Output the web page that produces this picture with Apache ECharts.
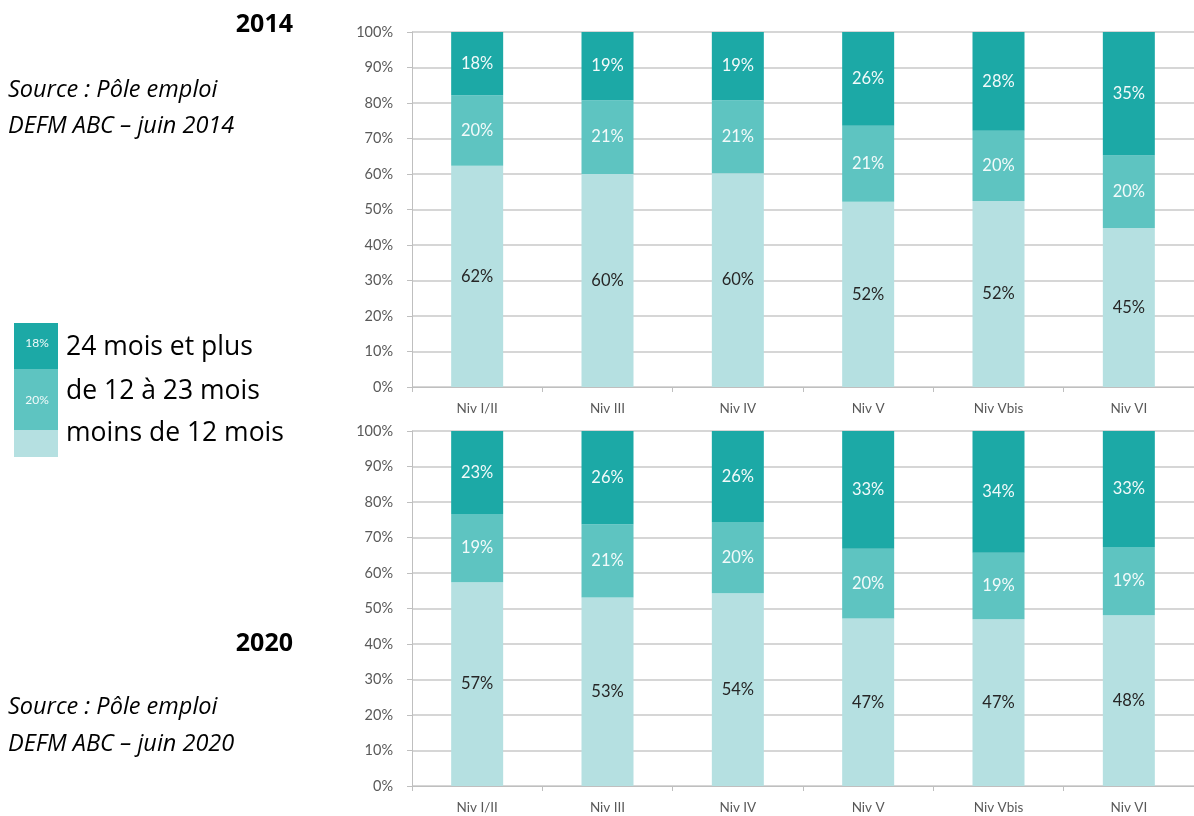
<!DOCTYPE html>
<html>
<head>
<meta charset="utf-8">
<script src="https://cdn.jsdelivr.net/npm/echarts@6/dist/echarts.min.js"></script>
<style>
  html, body { margin: 0; padding: 0; background: #fff; overflow: hidden; }
  #chart { width: 1194px; height: 816px; }
</style>
</head>
<body>
<div id="chart"></div>
<script>
// categories et valeurs (parts en %)
const niveaux = ['Niv I/II', 'Niv III', 'Niv IV', 'Niv V', 'Niv Vbis', 'Niv VI']
const yTicks = [0, 10, 20, 30, 40, 50, 60, 70, 80, 90, 100]

const moins12_2014 = [62.3, 60.0, 60.2, 52.2, 52.4, 44.8]
const de12a23_2014 = [19.9, 20.8, 20.6, 21.4, 19.8, 20.4]
const plus24_2014 = [17.8, 19.2, 19.2, 26.4, 27.8, 34.8]

const moins12_2020 = [57.4, 53.1, 54.3, 47.2, 47.0, 48.1]
const de12a23_2020 = [19.2, 20.6, 20.1, 19.6, 18.7, 19.2]
const plus24_2020 = [23.4, 26.3, 25.6, 33.2, 34.3, 32.7]

const seriesNames = ['moins de 12 mois', 'de 12 à 23 mois', '24 mois et plus']
const colors = ['#B5E0E1', '#5EC4C1', '#1CA9A6']
const labelColors = ['#262626', '#F2FAFA', '#F2FAFA']

const FONT = 'Lato, "Liberation Sans", sans-serif'
const TXT = '"Open Sans", "Liberation Sans", sans-serif'

const chart = echarts.init(document.getElementById('chart'))

function xAxis(gridIndex) {
    return {
        type: 'category',
        gridIndex,
        data: niveaux,
        axisLine: { lineStyle: { color: '#BFBFBF', width: 1 } },
        axisTick: { show: true, length: 5, lineStyle: { color: '#BFBFBF' } },
        axisLabel: { color: '#595959', fontSize: 13.5, fontFamily: FONT, margin: 15 },
        splitLine: { show: false }
    }
}

function yAxis(gridIndex) {
    return {
        type: 'value',
        gridIndex,
        min: yTicks[0],
        max: yTicks[yTicks.length - 1],
        interval: 10,
        axisLine: { show: true, lineStyle: { color: '#BFBFBF', width: 1 } },
        axisTick: { show: true, length: 5, lineStyle: { color: '#BFBFBF' } },
        axisLabel: { color: '#595959', fontSize: 14.5, fontFamily: FONT, margin: 19, formatter: '{value}%' },
        splitLine: { show: true, lineStyle: { color: '#C9C9C9', width: 1.5 } }
    }
}

function bar(name, data, idx, gridIndex, stack) {
    return {
        type: 'bar',
        name,
        data,
        stack,
        xAxisIndex: gridIndex,
        yAxisIndex: gridIndex,
        barWidth: 52,
        itemStyle: { color: colors[idx] },
        label: {
            show: true,
            position: 'inside',
            color: labelColors[idx],
            fontSize: 16.5,
            fontFamily: FONT,
            formatter: p => Math.round(p.value) + '%'
        },
        emphasis: { disabled: true }
    }
}

const text = (str, x, y, font, align) => ({
    type: 'text', x, y,
    style: { text: str, fill: '#000', font, align: align || 'left', verticalAlign: 'middle' }
})

const option = {
    animation: false,
    backgroundColor: '#fff',
    grid: [
        { left: 412, top: 32, width: 790, height: 355 },
        { left: 412, top: 431, width: 790, height: 355 }
    ],
    xAxis: [xAxis(0), xAxis(1)],
    yAxis: [yAxis(0), yAxis(1)],
    series: [
        bar(seriesNames[0], moins12_2014, 0, 0, 'y2014'),
        bar(seriesNames[1], de12a23_2014, 1, 0, 'y2014'),
        bar(seriesNames[2], plus24_2014, 2, 0, 'y2014'),
        bar(seriesNames[0], moins12_2020, 0, 1, 'y2020'),
        bar(seriesNames[1], de12a23_2020, 1, 1, 'y2020'),
        bar(seriesNames[2], plus24_2020, 2, 1, 'y2020')
    ],
    graphic: [
        // titres et sources
        text('2014', 293, 25, 'bold 25px ' + TXT, 'right'),
        text('Source : Pôle emploi', 8, 90, 'italic 23.5px ' + TXT),
        text('DEFM ABC – juin 2014', 8, 126, 'italic 23.5px ' + TXT),
        text('2020', 293, 644, 'bold 25px ' + TXT, 'right'),
        text('Source : Pôle emploi', 8, 707, 'italic 23.5px ' + TXT),
        text('DEFM ABC – juin 2020', 8, 744, 'italic 23.5px ' + TXT),
        // légende (barre empilée miniature)
        { type: 'rect', shape: { x: 14, y: 323, width: 44, height: 46 }, style: { fill: colors[2] } },
        { type: 'rect', shape: { x: 14, y: 369, width: 44, height: 61 }, style: { fill: colors[1] } },
        { type: 'rect', shape: { x: 14, y: 430, width: 44, height: 27 }, style: { fill: colors[0] } },
        { type: 'text', x: 37, y: 343, style: { text: '18%', fill: '#F2FAFA', font: '12px ' + FONT, align: 'center', verticalAlign: 'middle' } },
        { type: 'text', x: 37, y: 400, style: { text: '20%', fill: '#F2FAFA', font: '12px ' + FONT, align: 'center', verticalAlign: 'middle' } },
        text(seriesNames[2], 66, 347, '26.5px ' + TXT),
        text(seriesNames[1], 66, 391, '26.5px ' + TXT),
        text(seriesNames[0], 66, 433, '26.5px ' + TXT)
    ]
}

chart.setOption(option)
</script>
</body>
</html>
